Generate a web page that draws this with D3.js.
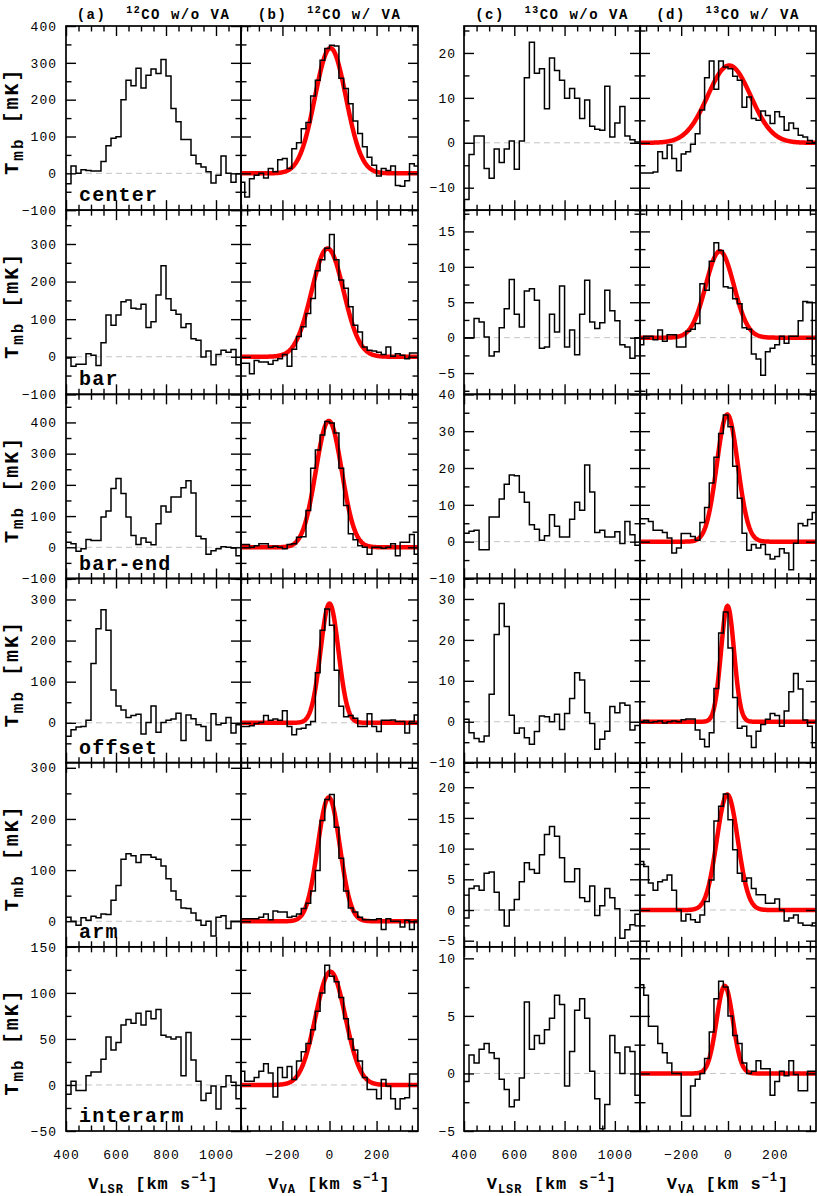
<!DOCTYPE html>
<html lang="en">
<head>
<meta charset="utf-8">
<title>CO spectra with and without velocity alignment</title>
<script src="https://cdnjs.cloudflare.com/ajax/libs/d3/7.8.5/d3.min.js"></script>
<style>
  body { margin: 0; background: #fff; }
  svg text { font-family: "Liberation Mono", "DejaVu Sans Mono", monospace; fill: #000; }
</style>
</head>
<body>
<div id="chart"></div>
<script>
// rows of the figure (regions of the galaxy)
var regions = ["center", "bar", "bar-end", "offset", "arm", "interarm"];

// channel grids in km/s
var vlsrStart = 400, vaStart = -380, chanWidth = 20;
var lsrDomain = [400, 1100], vaDomain = [-376, 376];

// (a) 12CO w/o VA, Tmb [mK], 35 channels from 400 km/s
var co12raw_center   = [-28, 20, 0, 10, 8, 6, 6, 32, 75, 95, 99, 200, 253, 238, 285, 232, 266, 283, 271, 309, 264, 176, 140, 92, 92, 49, 26, 17, 4, -26, -5, 47, 0, -24, -1];
var co12raw_bar      = [-3, -25, -20, -20, 8, 4, -23, 37, 111, 84, 111, 146, 151, 129, 127, 140, 78, 93, 164, 242, 154, 124, 113, 78, 88, 48, 44, -1, 15, -21, 6, 17, 12, 19, -21];
var co12raw_barend   = [16, 11, -13, -5, 25, 22, 22, 97, 116, 188, 220, 172, 97, 38, 9, 30, 16, 8, 75, 132, 113, 161, 161, 191, 213, 174, 35, 27, -22, -11, -5, 2, 0, -2, -27];
var co12raw_offset   = [-33, -17, -10, -9, 6, 144, 229, 275, 225, 80, 41, 31, 13, 18, 21, -27, 1, 41, -23, 1, 6, 9, 23, -43, 19, 10, -5, -9, -43, 22, -5, -1, 13, -25, -5];
var co12raw_arm      = [8, 0, -8, 7, 2, 10, 7, 14, 13, 41, 70, 121, 132, 128, 115, 130, 130, 125, 121, 108, 83, 59, 42, 26, 25, 16, 2, -8, 0, -29, 8, 11, -14, 0, 0];
var co12raw_interarm = [-10, 4, -6, -6, 10, 14, 14, 28, 52, 38, 46, 65, 71, 67, 78, 65, 80, 72, 82, 54, 52, 50, 52, 10, 57, 27, 4, -17, -9, -1, -26, -2, 10, 3, -15];

// (b) 12CO w/ VA, 38 channels from -380 km/s
var co12va_center   = [-24, -64, -15, -5, 0, -13, 13, 4, 37, 40, 13, 67, 83, 121, 138, 210, 253, 307, 339, 348, 346, 258, 230, 189, 142, 108, 72, 44, 22, -7, 13, 8, 20, -33, -35, -20, 26, 20];
var co12va_bar      = [-17, -17, -45, -10, -14, -14, -20, -10, -5, 6, -25, 20, 54, 80, 115, 155, 229, 258, 289, 325, 258, 204, 182, 133, 84, 66, 26, 17, 15, 12, 6, 26, 1, 8, 4, -5, 10, 10];
var co12va_barend   = [9, 9, 0, 5, 11, 11, 0, 3, 0, -5, 9, 11, 32, 34, 118, 253, 312, 360, 403, 398, 366, 253, 134, 43, 24, 5, 0, -22, 0, 0, -3, 0, 11, -27, 16, 16, 41, -22];
var co12va_offset   = [-9, -9, -7, -2, 1, 18, 6, 9, 6, 29, -9, -29, -15, -13, -5, 3, 122, 225, 277, 237, 128, 40, 15, 18, 11, -9, -9, 22, -9, -21, 6, 6, 7, 3, 3, -25, 3, 19];
var co12va_arm      = [5, 5, 5, 5, 8, 14, 3, 20, 18, 18, 8, 10, 14, 25, 35, 59, 99, 197, 238, 248, 184, 123, 59, 26, 18, 8, 3, 3, 3, 5, -16, 5, 0, 0, -11, 2, -16, 0];
var co12va_interarm = [15, 4, 4, 8, 15, 23, 13, -13, 19, 8, 20, 6, 26, 36, 45, 60, 80, 100, 130, 118, 112, 95, 72, 50, 38, 26, 8, -5, -5, -15, 6, -1, -15, -26, -15, -14, 12, 12];

// (c) 13CO w/o VA
var co13raw_center   = [-12.6, -2.6, 1.5, 1.5, -5.7, -7.9, -1.4, -4.4, -1.4, 0.4, -5.9, 0.4, 14.5, 22.4, 15.5, 16.5, 7.6, 18.9, 16.1, 13.9, 9.9, 12.1, 9.9, 5.4, 9.5, 3.7, 3, 2.8, 12.6, 1.3, 4.4, 8.1, 1.5, 0.7, 0.2];
var co13raw_bar      = [0, 0, 2.7, 2.2, 0.1, -2.6, -2, 1.4, 4.1, 8.2, 3.3, 1.5, 6.6, 6.9, 5.3, -1.5, -1.3, 3.3, 0.8, 7.3, -1.3, 1.1, -2.4, 3.3, 8.1, 2.2, 1.3, 2.1, 6.7, 3.8, 2.4, -1, -1.3, -2.9, 0];
var co13raw_barend   = [2.3, 2.8, 3.1, -2.2, -2.2, 6.7, 6.7, 11.6, 15.6, 18.1, 17.9, 13.4, 10.7, 4.6, 3.4, 0.4, 1.6, 7.3, 4.2, 1.3, 1.3, 6.1, 10.7, 8.5, 20.8, 13.5, 2.5, 3.1, 1.3, 1.3, 2.7, -0.5, 5.5, 1.9, -1];
var co13raw_offset   = [0.6, -2.7, -4.1, -4.9, -3.5, 6.7, 21.3, 28.9, 23.3, 1.6, -2.8, -1.5, -3.9, -5.5, -2.4, 1.4, 1.2, 0, 1.8, -1.9, 2, 5.7, 12, 10.2, 2.2, -0.4, -6.7, -4.3, -2.3, 3.7, 2.2, 4.6, 4, -2, -0.9];
var co13raw_arm      = [-1.3, 3.5, 3.9, 3.2, 6, 6.2, 2.9, 0, -2.6, 0, 1.7, 4.6, 7.7, 6.6, 6, 9, 12.3, 13.6, 12, 8.5, 4.6, 4.6, 6.7, 2, 1.4, 3.9, -0.9, 0.7, 3.5, 2, 0.2, -4.6, -3.2, -2.4, -0.7];
var co13raw_interarm = [-0.7, 1.6, 0.9, 2.1, 2.6, 1.8, 1.3, -0.5, -1.4, -2.9, -2.3, -0.4, 6.2, 2.1, 3.3, 2.6, 3.8, 4.8, 6.8, 6.0, -1.1, 1.9, 5.5, 6.5, 4.8, 0.2, -2.2, -4.8, -2.7, 3.3, 1.8, 0, 2.3, 1.9, -1.9];

// (d) 13CO w/ VA
var co13va_center   = [-6.7, -6.7, -6.7, -6.5, -2, -3.5, -0.5, -3.5, -6.2, -2.5, -2, -0.3, 2, 7.3, 14.5, 18.2, 11.9, 18.2, 16.9, 16.5, 14.8, 13.9, 7.9, 10.2, 5.4, 5, 7.1, 6.1, 4.3, 6.9, 5.8, 2.8, 4.4, 3.2, 1.7, 1.3, 0.5, 0];
var co13va_bar      = [-1, 0.2, 0.2, -0.3, 1.1, -0.5, 0.4, 0.4, -1.3, -1.3, 0.9, 1.2, 2, 7.6, 6.7, 10.8, 13.4, 12.3, 7.2, 7, 5.5, 4.8, 1.4, 1.2, -2.3, -3, -5.3, -2, -1.5, -1, 0.2, -0.8, 0.2, 0.2, 2.4, 5.1, 5, -3.8];
var co13va_barend   = [6.2, 6.2, 5.5, 3.1, 3.1, 2.5, 1, -3.1, -1.7, 2.2, 2.2, 1.4, 0.4, 5.2, 9.3, 15.9, 22.9, 29.4, 34.4, 31.2, 20.5, 11.8, 2.3, -2.3, -0.8, -1.7, -0.8, -3.5, -4.7, -4, -1.9, -3.1, -7.6, -0.4, 4.9, 4.3, 6, 7.9];
var co13va_offset   = [0, 0.3, -0.2, 0, 0.2, -0.3, 0, 0.2, 0, 0.5, 0.7, 0.7, -2, -4.3, -6.1, -2.7, 8.1, 21.7, 26.8, 18, 5.9, -1.6, -1.1, -3.5, -6.3, -2.3, -0.7, 0.6, 2, 1.5, -1.1, 2.6, 7.3, 11.8, 8, 0.4, -1.1, -6.3];
var co13va_arm      = [7.9, 7.1, 4.4, 3.2, 4.6, 4.9, 5.7, 3.2, 0, -1.8, -0.7, -1.6, -2, -0.8, 1.4, 4.9, 14.5, 16.9, 18.9, 14.7, 9.8, 6, 4.7, 5.2, 3.5, 2.5, 2.5, 1.1, 1.1, 1.8, 0, -1.8, -1.3, -0.8, -2.1, -2.5, -2.5, -2.1];
var co13va_interarm = [7.7, 6.8, 4.1, 4.1, 2.6, 1.8, 0.9, 0, 0, -3.7, -3.7, -1.1, -0.5, 0, 1.3, 3.6, 6.5, 8.0, 7.5, 5.0, 3.3, 2.6, 0.9, 0, 0.2, 1.1, 0.4, 0.4, -1.9, -0.7, 0.2, -0.2, 1.1, -0.1, -1.5, -1.5, 0.2, 0.2];

// gaussian fits [peak, centre km/s, sigma km/s]
var co12fit_center = [340, 4, 66], co12fit_bar = [288, -8, 68], co12fit_barend = [405, -3, 55],
    co12fit_offset = [290, 0, 38], co12fit_arm = [242, -3, 47], co12fit_interarm = [123, 4, 63];
var co13fit_center = [17.2, 5, 92], co13fit_bar = [12.2, -35, 60], co13fit_barend = [34.5, -3, 45],
    co13fit_offset = [28.3, -2, 28], co13fit_arm = [18.8, -3, 45], co13fit_interarm = [7.6, -14, 35];

// y ranges and tick steps per row
var co12YDomain = [[-100, 400], [-100, 390], [-100, 490], [-97, 351], [-50, 310], [-50, 150]];
var co12YMajor = [100, 100, 100, 100, 100, 50];
var co12YMinor = [50, 50, 50, 50, 50, 25];
var co13YDomain = [[-15, 26], [-8, 18], [-10, 40], [-10, 35], [-6, 24], [-5, 11]];
var co13YMajor = [10, 5, 10, 10, 5, 5];
var co13YMinor = [5, 2.5, 5, 5, 2.5, 2.5];

var lsrTicks = [400, 600, 800, 1000];
var vaTicks = [-200, 0, 200];

var co12raw = [co12raw_center, co12raw_bar, co12raw_barend, co12raw_offset, co12raw_arm, co12raw_interarm];
var co12va = [co12va_center, co12va_bar, co12va_barend, co12va_offset, co12va_arm, co12va_interarm];
var co13raw = [co13raw_center, co13raw_bar, co13raw_barend, co13raw_offset, co13raw_arm, co13raw_interarm];
var co13va = [co13va_center, co13va_bar, co13va_barend, co13va_offset, co13va_arm, co13va_interarm];
var co12fit = [co12fit_center, co12fit_bar, co12fit_barend, co12fit_offset, co12fit_arm, co12fit_interarm];
var co13fit = [co13fit_center, co13fit_bar, co13fit_barend, co13fit_offset, co13fit_arm, co13fit_interarm];

var columns = [
  {x0: 66,  x1: 241, va: false, iso: "12", tag: "(a)", tail: "CO w/o VA", data: co12raw, labelPad: 9},
  {x0: 241, x1: 418, va: true,  iso: "12", tag: "(b)", tail: "CO w/ VA",  data: co12va, fits: co12fit},
  {x0: 464, x1: 640, va: false, iso: "13", tag: "(c)", tail: "CO w/o VA", data: co13raw, labelPad: 8},
  {x0: 640, x1: 816, va: true,  iso: "13", tag: "(d)", tail: "CO w/ VA",  data: co13va, fits: co13fit}
];

var width = 817, height = 1196;
var rowTop = 26, rowBottom = 1131, rowH = (rowBottom - rowTop) / regions.length;
var fontMono = '"Liberation Mono", "DejaVu Sans Mono", monospace';

var svg = d3.select("#chart").append("svg")
    .attr("width", width)
    .attr("height", height);

function tickList(dom, step) {
  var out = [];
  var start = Math.ceil(dom[0] / step - 1e-9);
  for (var i = start; i * step <= dom[1] + 1e-9; i++) out.push(+(i * step).toFixed(4));
  return out;
}
function isMultiple(v, step) {
  var r = v / step;
  return Math.abs(r - Math.round(r)) < 1e-6;
}
function fmt(d) { return d < 0 ? "\u2212" + Math.abs(d) : "" + d; }

function styleAxis(g) {
  g.select(".domain").remove();
  g.selectAll("line").attr("stroke", "#000").attr("stroke-width", 1.4);
  g.attr("font-family", fontMono).attr("font-size", 13);
  g.selectAll("text").attr("letter-spacing", 1);
}

function drawPanel(ri, ci) {
  var col = columns[ci];
  var y0 = rowTop + ri * rowH, y1 = y0 + rowH;
  var is12 = col.iso === "12";
  var yDom = is12 ? co12YDomain[ri] : co13YDomain[ri];
  var yMaj = is12 ? co12YMajor[ri] : co13YMajor[ri];
  var yMin = is12 ? co12YMinor[ri] : co13YMinor[ri];

  var x = d3.scaleLinear().domain(col.va ? vaDomain : lsrDomain).range([col.x0, col.x1]);
  var y = d3.scaleLinear().domain(yDom).range([y1, y0]);

  var clipId = "clip-" + ri + "-" + ci;
  svg.append("clipPath").attr("id", clipId)
    .append("rect")
      .attr("x", col.x0).attr("y", y0)
      .attr("width", col.x1 - col.x0).attr("height", rowH);

  var g = svg.append("g").attr("clip-path", "url(#" + clipId + ")");

  // zero level
  g.append("line")
      .attr("x1", col.x0).attr("x2", col.x1)
      .attr("y1", y(0)).attr("y2", y(0))
      .attr("stroke", "#c4c4c4")
      .attr("stroke-width", 1)
      .attr("stroke-dasharray", "6,4");

  // gaussian fit (only for aligned spectra)
  if (col.va) {
    var p = col.fits[ri];
    var curve = d3.range(vaDomain[0], vaDomain[1] + 0.5, 2).map(function(v) {
      return [v, p[0] * Math.exp(-Math.pow(v - p[1], 2) / (2 * p[2] * p[2]))];
    });
    g.append("path")
        .datum(curve)
        .attr("fill", "none")
        .attr("stroke", "#ff0000")
        .attr("stroke-width", 4.5)
        .attr("d", d3.line().x(function(d) { return x(d[0]); }).y(function(d) { return y(d[1]); }));
  }

  // spectrum histogram
  var vals = col.data[ri];
  var start = col.va ? vaStart : vlsrStart;
  var pts = vals.map(function(v, k) { return [start + k * chanWidth, v]; });
  pts.push([start + vals.length * chanWidth, vals[vals.length - 1]]);
  g.append("path")
      .datum(pts)
      .attr("fill", "none")
      .attr("stroke", "#000")
      .attr("stroke-width", 1.5)
      .attr("d", d3.line().curve(d3.curveStepAfter)
        .x(function(d) { return x(d[0]); })
        .y(function(d) { return y(d[1]); }));

  // ticks, all pointing inwards
  var xAll = tickList(x.domain(), 50);
  var xMajor = xAll.filter(function(v) { return isMultiple(v, 200); });
  var xMinor = xAll.filter(function(v) { return !isMultiple(v, 200); });
  var yAll = tickList(yDom, yMin);
  var yMajor = yAll.filter(function(v) { return isMultiple(v, yMaj); });
  var yMinor = yAll.filter(function(v) { return !isMultiple(v, yMaj); });

  var showY = !col.va;
  var showX = ri === regions.length - 1;

  svg.append("g").attr("transform", "translate(" + col.x0 + ",0)")
      .call(d3.axisLeft(y).tickValues(yMinor).tickSize(-5.5).tickFormat(""))
      .call(styleAxis);
  svg.append("g").attr("transform", "translate(" + col.x0 + ",0)")
      .call(d3.axisLeft(y).tickValues(yMajor).tickSize(-10)
        .tickPadding(showY ? col.labelPad : 0)
        .tickFormat(showY ? fmt : ""))
      .call(styleAxis);
  svg.append("g").attr("transform", "translate(" + col.x1 + ",0)")
      .call(d3.axisRight(y).tickValues(yMinor).tickSize(-5.5).tickFormat(""))
      .call(styleAxis);
  svg.append("g").attr("transform", "translate(" + col.x1 + ",0)")
      .call(d3.axisRight(y).tickValues(yMajor).tickSize(-10).tickFormat(""))
      .call(styleAxis);

  svg.append("g").attr("transform", "translate(0," + y1 + ")")
      .call(d3.axisBottom(x).tickValues(xMinor).tickSize(-5.5).tickFormat(""))
      .call(styleAxis);
  svg.append("g").attr("transform", "translate(0," + y1 + ")")
      .call(d3.axisBottom(x).tickValues(xMajor).tickSize(-10).tickPadding(19)
        .tickFormat(function(d) {
          if (!showX) return "";
          var wanted = col.va ? vaTicks : lsrTicks;
          return wanted.indexOf(d) >= 0 ? fmt(d) : "";
        }))
      .call(styleAxis);
  svg.append("g").attr("transform", "translate(0," + y0 + ")")
      .call(d3.axisTop(x).tickValues(xMinor).tickSize(-5.5).tickFormat(""))
      .call(styleAxis);
  svg.append("g").attr("transform", "translate(0," + y0 + ")")
      .call(d3.axisTop(x).tickValues(xMajor).tickSize(-10).tickFormat(""))
      .call(styleAxis);

  // frame
  svg.append("rect")
      .attr("x", col.x0).attr("y", y0)
      .attr("width", col.x1 - col.x0).attr("height", rowH)
      .attr("fill", "none")
      .attr("stroke", "#000")
      .attr("stroke-width", 1.7);
}

regions.forEach(function(r, ri) {
  columns.forEach(function(c, ci) { drawPanel(ri, ci); });

  // region name
  svg.append("text")
      .attr("x", 79)
      .attr("y", rowTop + (ri + 1) * rowH - 9)
      .attr("font-size", 20)
      .attr("font-weight", "bold")
      .attr("letter-spacing", 1.2)
      .text(r);

  // y axis title
  var cy = rowTop + (ri + 0.5) * rowH + 3;
  var yl = svg.append("text")
      .attr("transform", "translate(18," + cy + ") rotate(-90)")
      .attr("text-anchor", "middle")
      .attr("font-size", 20)
      .attr("font-weight", "bold")
      .attr("letter-spacing", 2)
      .style("white-space", "pre");
  yl.append("tspan").text("T");
  yl.append("tspan").attr("font-size", 16).attr("dy", 5).text("mb");
  yl.append("tspan").attr("dy", -5).text(" [mK]");
});

// column titles and x axis titles
columns.forEach(function(col) {
  var cx = (col.x0 + col.x1) / 2;
  var t = svg.append("text")
      .attr("x", cx).attr("y", 18.5)
      .attr("text-anchor", "middle")
      .attr("font-size", 14)
      .attr("font-weight", "bold")
      .attr("letter-spacing", 1.5)
      .style("white-space", "pre");
  t.append("tspan").text(col.tag + "  ");
  t.append("tspan").attr("font-size", 10).attr("dy", -6).text(col.iso);
  t.append("tspan").attr("dy", 6).text(col.tail);

  var xl = svg.append("text")
      .attr("x", cx).attr("y", 1189)
      .attr("text-anchor", "middle")
      .attr("font-size", 17)
      .attr("font-weight", "bold")
      .attr("letter-spacing", 1)
      .style("white-space", "pre");
  xl.append("tspan").text("V");
  xl.append("tspan").attr("font-size", 12).attr("dy", 4).text(col.va ? "VA" : "LSR");
  xl.append("tspan").attr("dy", -4).text(" [km s");
  xl.append("tspan").attr("font-size", 12).attr("dy", -8).text("\u22121");
  xl.append("tspan").attr("dy", 8).text("]");
});
</script>
</body>
</html>
